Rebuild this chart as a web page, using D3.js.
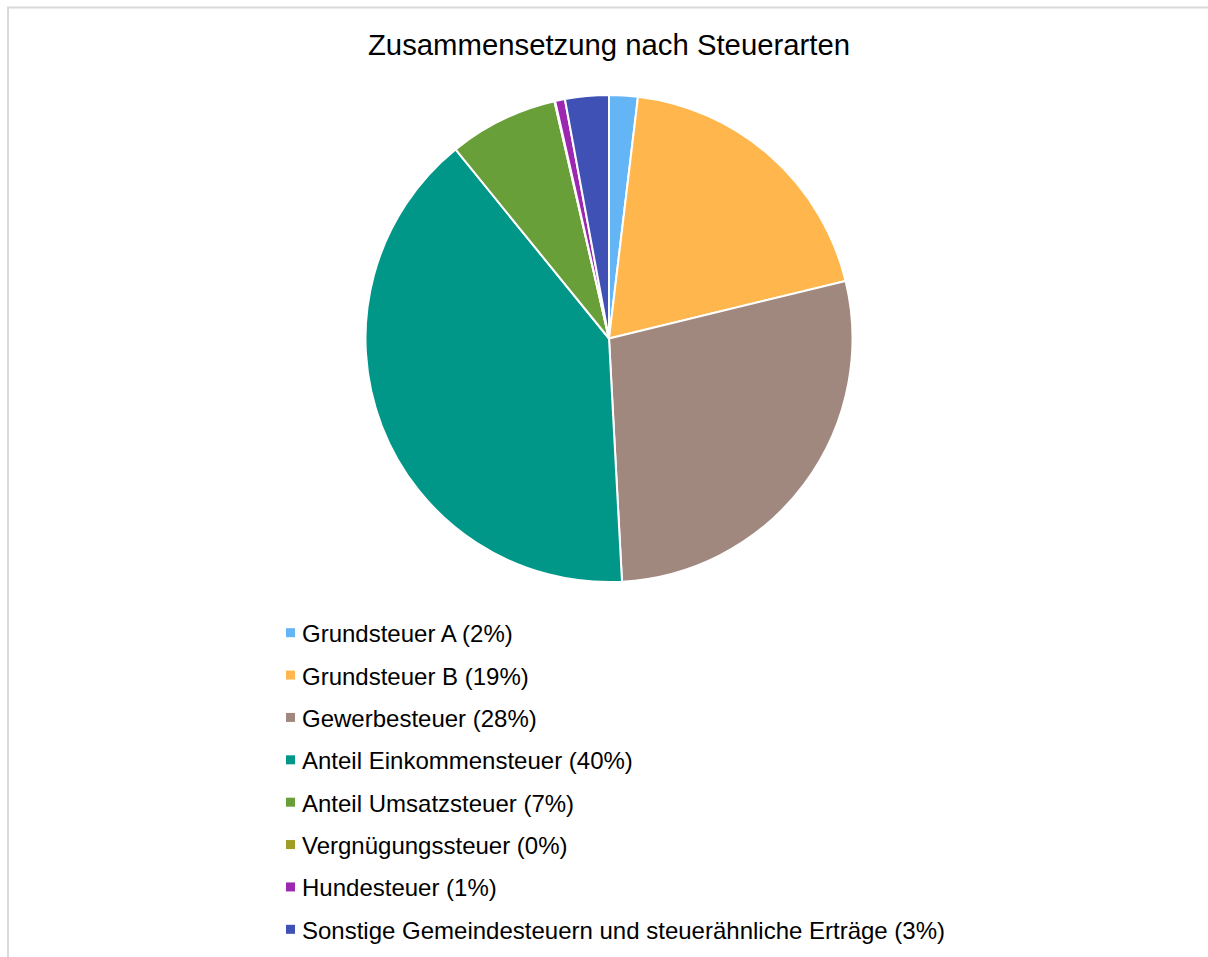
<!DOCTYPE html>
<html>
<head>
<meta charset="utf-8">
<script src="https://cdn.jsdelivr.net/npm/d3@7/dist/d3.min.js"></script>
<style>
  html, body { margin: 0; padding: 0; background: #fff; }
  svg { display: block; }
  text { font-family: 'Liberation Sans', Arial, sans-serif; }
</style>
</head>
<body>
<svg id="chart" width="1208" height="957"></svg>
<script>
const title = "Zusammensetzung nach Steuerarten";
const categories = [
  "Grundsteuer A",
  "Grundsteuer B",
  "Gewerbesteuer",
  "Anteil Einkommensteuer",
  "Anteil Umsatzsteuer",
  "Vergnügungssteuer",
  "Hundesteuer",
  "Sonstige Gemeindesteuern und steuerähnliche Erträge"
];
const values = [1.9, 19.3, 27.95, 40.0, 7.25, 0.05, 0.65, 2.9];
const colors = ["#64b5f6", "#ffb74d", "#a1887f", "#009688", "#689f38", "#9e9d24", "#9c27b0", "#3f51b5"];

const svg = d3.select("#chart");
const W = 1208, H = 957;

// outer frame
svg.append("rect")
  .attr("x", 8).attr("y", 7.5)
  .attr("width", W + 10).attr("height", H + 10)
  .attr("fill", "#fff")
  .attr("stroke", "#d9d9d9").attr("stroke-width", 2);

svg.append("text")
  .attr("x", 609).attr("y", 55)
  .attr("text-anchor", "middle")
  .attr("font-size", 29.3)
  .attr("fill", "#000")
  .text(title);

const data = categories.map((c, i) => ({ name: c, value: values[i], color: colors[i] }));
const total = d3.sum(values);

const cx = 609, cy = 338.5, R = 243.5;
const pie = d3.pie().value(d => d.value).sort(null);
const arc = d3.arc().innerRadius(0).outerRadius(R);

const g = svg.append("g").attr("transform", `translate(${cx},${cy})`);
g.selectAll("path")
  .data(pie(data))
  .join("path")
  .attr("d", arc)
  .attr("fill", d => d.data.color)
  .attr("stroke", "#fff")
  .attr("stroke-width", 2)
  .attr("stroke-linejoin", "round");

const fmt = v => Math.round(v / total * 100) + "%";
const legendY = d3.scaleBand().domain(categories).range([612, 951]);

const lg = svg.append("g");
const items = lg.selectAll("g")
  .data(data)
  .join("g")
  .attr("transform", d => `translate(0,${legendY(d.name) + legendY.bandwidth() / 2})`);
items.append("rect")
  .attr("x", 286).attr("y", -5)
  .attr("width", 9).attr("height", 9)
  .attr("fill", d => d.color);
items.append("text")
  .attr("x", 302).attr("y", 9)
  .attr("font-size", 24)
  .attr("fill", "#000")
  .text(d => `${d.name} (${fmt(d.value)})`);
</script>
</body>
</html>
